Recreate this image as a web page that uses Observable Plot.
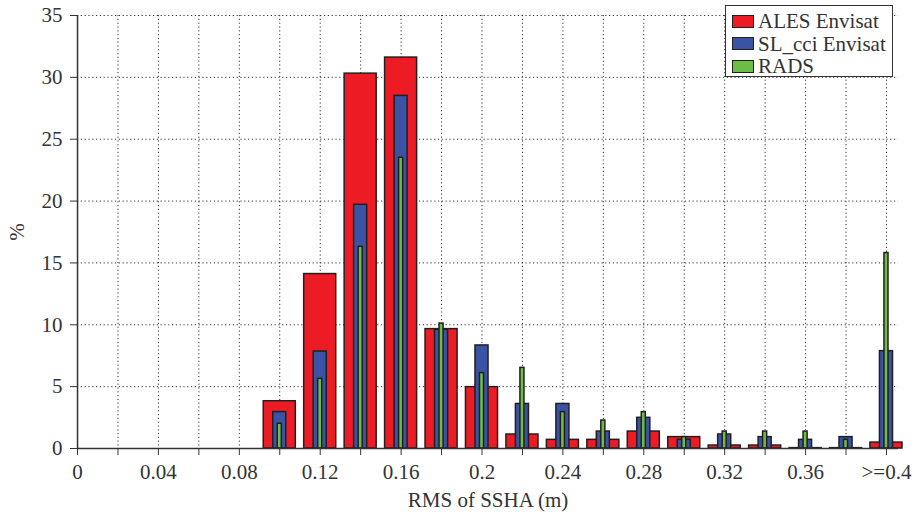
<!DOCTYPE html>
<html><head><meta charset="utf-8">
<script src="https://cdn.jsdelivr.net/npm/d3@7"></script>
<script src="https://cdn.jsdelivr.net/npm/@observablehq/plot@0.6"></script>
<style>
body{margin:0;background:#fff;}
#wrap{position:relative;width:915px;height:518px;font-family:"Liberation Serif",serif;color:#333;}
#legend{position:absolute;left:725px;top:5px;width:166px;height:70px;border:1.5px solid #333;background:#fff;box-sizing:content-box;}
.row{position:absolute;left:6px;height:22px;display:flex;align-items:center;font-size:21px;line-height:22px;color:#333;white-space:nowrap;}
.sw{width:20px;height:11px;border:1.5px solid #231f20;margin-right:4px;}
</style></head><body>
<div id="wrap"><div id="chart"></div><div id="legend"></div></div>
<script>
const categories = ["0","0.02","0.04","0.06","0.08","0.1","0.12","0.14","0.16","0.18","0.2","0.22","0.24","0.26","0.28","0.3","0.32","0.34","0.36","0.38",">=0.4"];
const ales  = [0,0,0,0,0,3.82,14.1,30.3,31.6,9.65,4.96,1.13,0.7,0.7,1.37,0.92,0.24,0.24,0.03,0.03,0.48];
const slcci = [0,0,0,0,0,2.94,7.84,19.7,28.5,9.6,8.33,3.6,3.6,1.37,2.48,0.7,1.13,0.92,0.7,0.92,7.87];
const rads  = [0,0,0,0,0,2.0,5.63,16.3,23.5,10.1,6.09,6.52,2.94,2.26,2.94,0.92,1.37,1.37,1.37,0.7,15.8];
const seriesNames = ["ALES Envisat","SL_cci Envisat","RADS"];
const seriesColors = ["#ed1c24","#3a53a4","#6cbd45"];
const yTicks = [0,5,10,15,20,25,30,35];

const seriesValues = [ales, slcci, rads];
const insets = [4.2, 13.7, 18.2];

const marks = [
  Plot.gridY({ticks: yTicks, stroke: "#333", strokeOpacity: 1, strokeDasharray: "1.2,2.6"}),
  Plot.gridX({stroke: "#333", strokeOpacity: 1, strokeDasharray: "1.2,2.6"}),
  ...seriesValues.map((vals, k) => Plot.barY(
    categories.map((c, i) => ({cat: c, value: vals[i]})).filter(d => d.value > 0),
    {x: "cat", y: "value", fill: seriesColors[k], stroke: "#231f20", strokeWidth: 1.5,
     insetLeft: insets[k], insetRight: insets[k]})),
  Plot.ruleY([0], {stroke: "#333", strokeWidth: 1.5}),
  Plot.ruleX([categories[0]], {stroke: "#333", strokeWidth: 1.5}),
  Plot.axisX({tickSize: 7, tickPadding: 9, stroke: "#333",
    tickFormat: d => categories.indexOf(d) % 2 ? "" : d,
    label: "RMS of SSHA (m)", labelAnchor: "center", labelOffset: 58, labelArrow: "none"}),
  Plot.axisY({ticks: yTicks, tickSize: 7, tickPadding: 8, stroke: "#333",
    label: "%", labelAnchor: "center", labelOffset: 68, labelArrow: "none"})
];

const chart = Plot.plot({
  width: 915, height: 518,
  marginLeft: 77, marginRight: 17, marginTop: 15, marginBottom: 70,
  style: {fontSize: "21px", fontFamily: "Liberation Serif", color: "#333", background: "#fff"},
  x: {type: "band", domain: categories, range: [56.8, 906.2], padding: 0, round: false},
  y: {domain: [0, 35]},
  marks
});
document.getElementById("chart").appendChild(chart);

const legend = document.getElementById("legend");
seriesNames.forEach((name, k) => {
  const row = document.createElement("div");
  row.className = "row";
  row.style.top = (4 + k * 22.5) + "px";
  const sw = document.createElement("div");
  sw.className = "sw";
  sw.style.background = seriesColors[k];
  row.appendChild(sw);
  row.appendChild(document.createTextNode(name));
  legend.appendChild(row);
});
</script>
</body></html>
